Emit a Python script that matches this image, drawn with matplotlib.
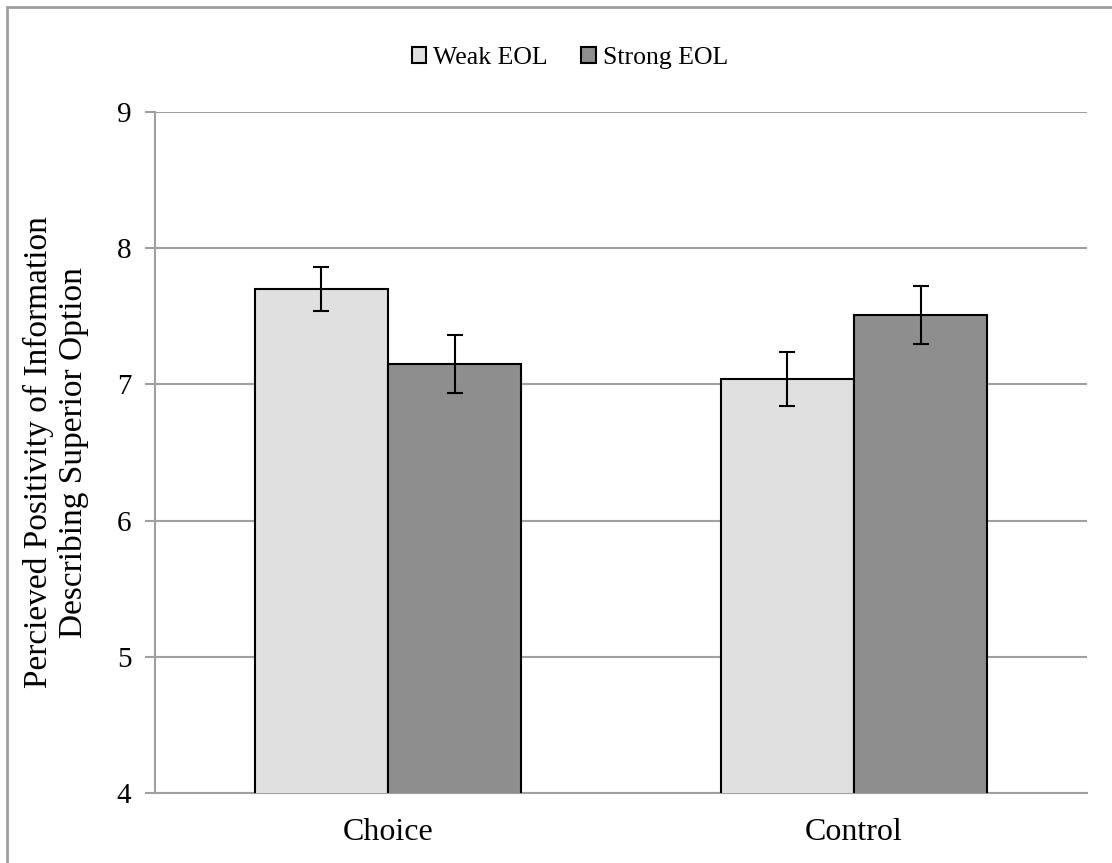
import numpy as np
import matplotlib
matplotlib.use("Agg")
import matplotlib.pyplot as plt
from matplotlib.patches import Rectangle

# --- data ---
conditions = ["Choice", "Control"]
series_names = ["Weak EOL", "Strong EOL"]
weak_means = [7.70, 7.04]
strong_means = [7.15, 7.51]
weak_err = [0.16, 0.20]
strong_err = [0.21, 0.21]
y_ticks = [4, 5, 6, 7, 8, 9]

plt.rcParams["font.family"] = ["Liberation Serif", "DejaVu Serif"]

fig = plt.figure(figsize=(11.12, 8.63), dpi=100)
ax = fig.add_axes([0.1394, 0.0811, 0.8381, 0.7891])

x = np.arange(len(conditions))
width = 0.2855
colors = ["#e0e0e0", "#8e8e8e"]

for i, (means, errs) in enumerate([(weak_means, weak_err), (strong_means, strong_err)]):
    offset = (i - 0.5) * width
    ax.bar(x + offset, means, width, bottom=0, color=colors[i], edgecolor="black",
           linewidth=1.5, label=series_names[i], zorder=3)
    ax.errorbar(x + offset, means, yerr=errs, fmt="none", ecolor="black",
                elinewidth=1.5, capsize=5.8, capthick=1.5, zorder=4)

ax.set_ylim(4, 9)
ax.set_xlim(-0.5, len(conditions) - 0.5)
ax.set_yticks(y_ticks)
ax.set_xticks(x)
ax.set_xticklabels(conditions, fontsize=23)
ax.tick_params(axis="x", length=0, pad=18)
ax.tick_params(axis="y", length=7, width=1.5, color="#a0a0a0", labelsize=21, pad=10)
ax.yaxis.grid(True, color="#a0a0a0", linewidth=1.5, zorder=0)
ax.set_axisbelow(True)

for side in ["top", "right"]:
    ax.spines[side].set_visible(False)
for side in ["left", "bottom"]:
    ax.spines[side].set_color("#a0a0a0")
    ax.spines[side].set_linewidth(1.5)

ax.set_ylabel("Percieved Positivity of Information\nDescribing Superior Option",
              fontsize=24, labelpad=20, linespacing=1.15)

fig.legend(loc="center", bbox_to_anchor=(570 / 1112, 1 - 58 / 863), ncol=2,
           frameon=False, fontsize=18.5, handlelength=0.55, handleheight=0.55,
           handletextpad=0.3, columnspacing=1.3)

# thin gray border of the chart area (only left/top visible in the crop)
fig.patches.append(Rectangle((7 / 1112, -0.1), 1.2, 1 - 7 / 863 + 0.1,
                             transform=fig.transFigure, fill=False,
                             edgecolor="#a0a0a0", linewidth=2))

fig.savefig("out.png", dpi=100)
